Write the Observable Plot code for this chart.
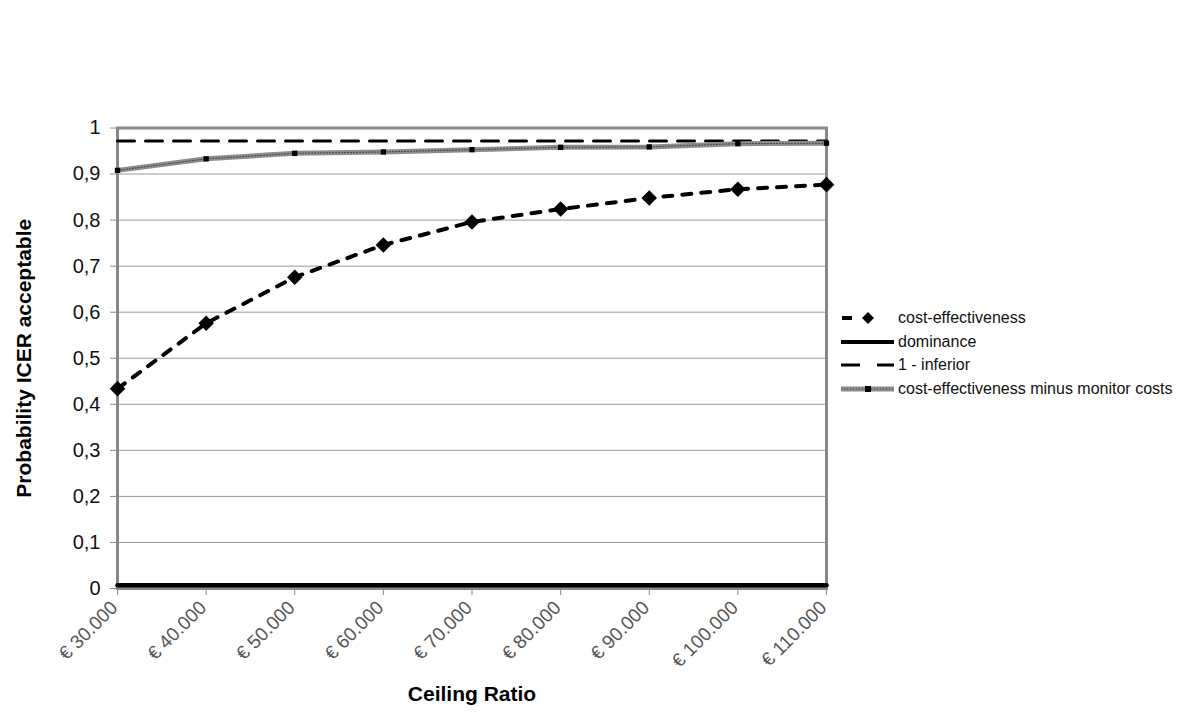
<!DOCTYPE html>
<html>
<head>
<meta charset="utf-8">
<script src="https://cdn.jsdelivr.net/npm/d3@7"></script>
<script src="https://cdn.jsdelivr.net/npm/@observablehq/plot@0.6"></script>
<style>
  html, body { margin: 0; padding: 0; background: #fff; }
  #wrap { position: relative; width: 1200px; height: 727px; font-family: "Liberation Sans", Arial, sans-serif; }
  #legend { position: absolute; left: 840px; top: 306px; font-size: 16px; color: #111; }
  .row { display: flex; align-items: center; height: 23.7px; white-space: nowrap; }
  .row svg { display: block; margin-right: 2px; }
</style>
</head>
<body>
<div id="wrap"></div>
<script>
// ---- data ----
const ceilings = [30000, 40000, 50000, 60000, 70000, 80000, 90000, 100000, 110000];
const costEffectiveness = [0.434, 0.576, 0.676, 0.746, 0.796, 0.824, 0.848, 0.867, 0.877];
const dominance = [0.007, 0.007, 0.007, 0.007, 0.007, 0.007, 0.007, 0.007, 0.007];
const oneMinusInferior = [0.972, 0.972, 0.972, 0.972, 0.972, 0.972, 0.972, 0.972, 0.972];
const minusMonitor = [0.908, 0.933, 0.945, 0.948, 0.953, 0.958, 0.959, 0.966, 0.967];
const yTicks = [0, 0.1, 0.2, 0.3, 0.4, 0.5, 0.6, 0.7, 0.8, 0.9, 1];
const seriesNames = ["cost-effectiveness", "dominance", "1 - inferior", "cost-effectiveness minus monitor costs"];
const xTitle = "Ceiling Ratio";
const yTitle = "Probability ICER acceptable";

const rows = (vals) => ceilings.map((c, i) => ({x: c, y: vals[i]}));
const fmtX = d => "€ " + d3.format(",")(d).replace(/,/g, ".");
const fmtY = d => String(d).replace(".", ",");

const chart = Plot.plot({
  width: 1200,
  height: 727,
  marginLeft: 117,
  marginRight: 374,
  marginTop: 127.5,
  marginBottom: 139,
  style: {fontFamily: "'Liberation Sans', Arial, sans-serif", background: "#fff", overflow: "visible"},
  x: {type: "linear", domain: [30000, 110000]},
  y: {domain: [0, 1]},
  marks: [
    Plot.gridY(yTicks, {stroke: "#9a9a9a", strokeOpacity: 1, strokeWidth: 1}),
    Plot.frame({stroke: "#888", strokeWidth: 3}),
    Plot.axisY(yTicks, {tickFormat: fmtY, tickSize: 7, tickPadding: 10, stroke: "#888", fill: "#111", fontSize: 20, label: null}),
    // x ticks (marks only)
    Plot.axisX(ceilings, {tickFormat: () => "", tickSize: 7, stroke: "#888", label: null}),
    // x tick labels (rotated)
    Plot.axisX(ceilings, {tickFormat: fmtX, tickSize: 0, tickPadding: 16, tickRotate: -45, dx: -3, fill: "#555", fontSize: 19, label: null}),
    // dominance
    Plot.line(rows(dominance), {x: "x", y: "y", stroke: "#000", strokeWidth: 4.5}),
    // 1 - inferior
    Plot.line(rows(oneMinusInferior), {x: "x", y: "y", stroke: "#000", strokeWidth: 3, strokeDasharray: "17,11"}),
    // cost-effectiveness minus monitor costs
    Plot.line(rows(minusMonitor), {x: "x", y: "y", stroke: "#8c8c8c", strokeWidth: 5}),
    Plot.line(rows(minusMonitor), {x: "x", y: "y", stroke: "#222", strokeWidth: 1, strokeDasharray: "1,2", strokeOpacity: 0.7}),
    Plot.dot(rows(minusMonitor), {x: "x", y: "y", symbol: "square", r: 3, fill: "#000", stroke: "none"}),
    // cost-effectiveness
    Plot.line(rows(costEffectiveness), {x: "x", y: "y", stroke: "#000", strokeWidth: 4, strokeDasharray: "9,10"}),
    Plot.dot(rows(costEffectiveness), {x: "x", y: "y", symbol: "diamond2", r: 7, fill: "#000", stroke: "none"}),
    // axis titles
    Plot.text([xTitle], {frameAnchor: "bottom", dy: 112, fontSize: 21, fontWeight: "bold", fill: "#000"}),
    Plot.text([yTitle], {frameAnchor: "left", textAnchor: "middle", dx: -93, rotate: -90, fontSize: 21, fontWeight: "bold", fill: "#000"})
  ]
});

const wrap = document.getElementById("wrap");
wrap.appendChild(chart);

// ---- legend ----
const swatches = [
  `<svg width="56" height="24"><line x1="2" y1="12" x2="12" y2="12" stroke="#000" stroke-width="4"/><path d="M28,6 L34,12 L28,18 L22,12 Z" fill="#000"/></svg>`,
  `<svg width="56" height="24"><line x1="1" y1="12" x2="54" y2="12" stroke="#000" stroke-width="4"/></svg>`,
  `<svg width="56" height="24"><line x1="1" y1="12" x2="20" y2="12" stroke="#000" stroke-width="3"/><line x1="37" y1="12" x2="54" y2="12" stroke="#000" stroke-width="3"/></svg>`,
  `<svg width="56" height="24"><line x1="1" y1="12" x2="54" y2="12" stroke="#8c8c8c" stroke-width="5"/><line x1="1" y1="12" x2="54" y2="12" stroke="#222" stroke-width="1" stroke-dasharray="1,2" stroke-opacity="0.7"/><rect x="25" y="9" width="6" height="6" fill="#000"/></svg>`
];
const legend = document.createElement("div");
legend.id = "legend";
legend.innerHTML = seriesNames.map((n, i) => `<div class="row">${swatches[i]}<span>${n}</span></div>`).join("");
wrap.appendChild(legend);
</script>
</body>
</html>
